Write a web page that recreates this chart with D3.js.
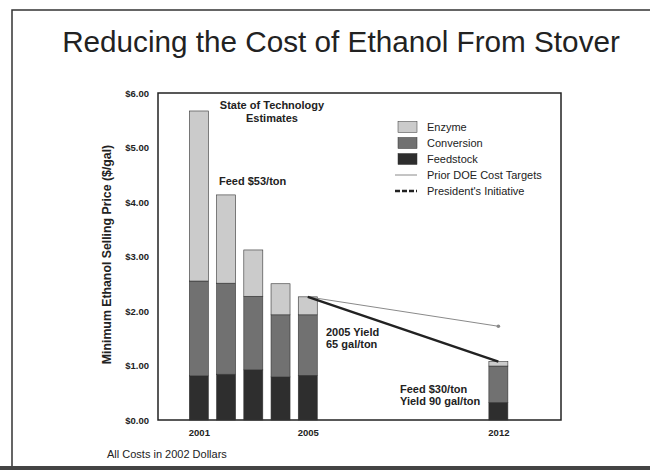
<!DOCTYPE html>
<html><head><meta charset="utf-8">
<script src="https://cdn.jsdelivr.net/npm/d3@7"></script>
<style>body{margin:0;background:#fff;}svg{display:block;font-family:"Liberation Sans",Arial,sans-serif;}</style>
</head><body>
<script>
const years = [2001, 2002, 2003, 2004, 2005, 2012];
const feedstock = [0.81, 0.84, 0.92, 0.79, 0.82, 0.32];
const conversion = [1.74, 1.67, 1.35, 1.14, 1.11, 0.67];
const enzyme = [3.12, 1.62, 0.85, 0.57, 0.33, 0.08];
const seriesNames = ["Enzyme", "Conversion", "Feedstock"];
const priorYears = [2005, 2012];
const priorValues = [2.26, 1.72];
const presYears = [2005, 2012];
const presValues = [2.26, 1.07];
const yTicks = [0, 1, 2, 3, 4, 5, 6];
const xTickYears = [2001, 2005, 2012];

const W = 650, H = 473;
const svg = d3.select("body").append("svg").attr("width", W).attr("height", H);
svg.append("rect").attr("width", W).attr("height", H).attr("fill", "#fff");

// outer slide frame
svg.append("path").attr("d", `M12,468 L12,10 L650,10`).attr("fill", "none").attr("stroke", "#333").attr("stroke-width", 1.5);
svg.append("line").attr("x1", 0).attr("x2", W).attr("y1", 468).attr("y2", 468).attr("stroke", "#444").attr("stroke-width", 4);

svg.append("text").attr("x", 341).attr("y", 52).attr("text-anchor", "middle")
  .attr("font-size", 29.7).attr("fill", "#222").text("Reducing the Cost of Ethanol From Stover");

const L = 158, R = 561, T = 93, B = 420;
const x = d3.scaleLinear().domain([1999.5, 2014.3]).range([L, R]);
const y = d3.scaleLinear().domain([0, 6]).range([B, T]);

const colors = {Feedstock: "#2e2e2e", Conversion: "#717171", Enzyme: "#cbcbcb"};

// plot box
svg.append("rect").attr("x", L).attr("y", T).attr("width", R - L).attr("height", B - T)
  .attr("fill", "none").attr("stroke", "#222").attr("stroke-width", 1.5);

// y axis
const yAxis = d3.axisLeft(y).tickValues(yTicks).tickSize(0).tickPadding(9).tickFormat(d => "$" + d.toFixed(2));
const gy = svg.append("g").attr("transform", `translate(${L},0)`).call(yAxis);
gy.select(".domain").remove();
gy.selectAll("text").attr("font-size", 9.5).attr("font-weight", "bold").attr("fill", "#222")
  .attr("font-family", "'Liberation Sans',Arial,sans-serif");

// x axis
const xAxis = d3.axisBottom(x).tickValues(xTickYears).tickSize(0).tickPadding(9).tickFormat(d3.format("d"));
const gx = svg.append("g").attr("transform", `translate(0,${B})`).call(xAxis);
gx.select(".domain").remove();
gx.selectAll("text").attr("font-size", 9.5).attr("font-weight", "bold").attr("fill", "#222")
  .attr("font-family", "'Liberation Sans',Arial,sans-serif");

svg.append("text").attr("transform", `translate(111,${(T + B) / 2 - 2}) rotate(-90)`)
  .attr("text-anchor", "middle").attr("font-size", 12.3).attr("font-weight", "bold").attr("fill", "#222")
  .text("Minimum Ethanol Selling Price ($/gal)");

// stacked bars
const rows = years.map((yr, i) => ({year: yr, Feedstock: feedstock[i], Conversion: conversion[i], Enzyme: enzyme[i]}));
const stack = d3.stack().keys(["Feedstock", "Conversion", "Enzyme"])(rows);
const bw = 19;
stack.forEach(s => {
  svg.append("g").selectAll("rect").data(s).join("rect")
    .attr("x", d => x(d.data.year) - bw / 2)
    .attr("width", bw)
    .attr("y", d => y(d[1]))
    .attr("height", d => y(d[0]) - y(d[1]))
    .attr("fill", colors[s.key])
    .attr("stroke", "#333").attr("stroke-width", 0.6);
});

// lines
const line = d3.line().x(d => x(d[0])).y(d => y(d[1]));
const priorPts = priorYears.map((v, i) => [v, priorValues[i]]);
const presPts = presYears.map((v, i) => [v, presValues[i]]);
svg.append("path").attr("d", line(priorPts)).attr("fill", "none").attr("stroke", "#8a8a8a").attr("stroke-width", 1);
svg.append("circle").attr("cx", x(priorPts[1][0])).attr("cy", y(priorPts[1][1])).attr("r", 1.8).attr("fill", "#888");
svg.append("path").attr("d", line(presPts)).attr("fill", "none").attr("stroke", "#222").attr("stroke-width", 2.5);

// annotations
const ann = (tx, ty, txt, anchor) => svg.append("text").attr("x", tx).attr("y", ty)
  .attr("text-anchor", anchor || "start").attr("font-size", 11).attr("font-weight", "bold")
  .attr("fill", "#222").text(txt);
ann(272, 109, "State of Technology", "middle");
ann(272, 122, "Estimates", "middle");
ann(219, 185, "Feed $53/ton");
ann(326, 336, "2005 Yield");
ann(326, 348, "65 gal/ton");
ann(400, 393, "Feed $30/ton");
ann(400, 405, "Yield 90 gal/ton");
svg.append("text").attr("x", 107).attr("y", 458).attr("font-size", 11).attr("fill", "#222").text("All Costs in 2002 Dollars");

// legend
const lg = svg.append("g");
const ly0 = 127, ldy = 16;
seriesNames.forEach((n, i) => {
  lg.append("rect").attr("x", 398).attr("y", ly0 + i * ldy - 5.5).attr("width", 19).attr("height", 11)
    .attr("fill", colors[n]).attr("stroke", "#333").attr("stroke-width", 0.5);
  lg.append("text").attr("x", 427).attr("y", ly0 + i * ldy + 4).attr("font-size", 11).attr("fill", "#222").text(n);
});
lg.append("line").attr("x1", 395).attr("x2", 417).attr("y1", ly0 + 3 * ldy).attr("y2", ly0 + 3 * ldy)
  .attr("stroke", "#8a8a8a").attr("stroke-width", 1);
lg.append("text").attr("x", 427).attr("y", ly0 + 3 * ldy + 4).attr("font-size", 11).attr("fill", "#222").text("Prior DOE Cost Targets");
lg.append("line").attr("x1", 395).attr("x2", 417).attr("y1", ly0 + 4 * ldy).attr("y2", ly0 + 4 * ldy)
  .attr("stroke", "#222").attr("stroke-width", 2.5).attr("stroke-dasharray", "5,2");
lg.append("text").attr("x", 427).attr("y", ly0 + 4 * ldy + 4).attr("font-size", 11).attr("fill", "#222").text("President's Initiative");
</script>
</body></html>
